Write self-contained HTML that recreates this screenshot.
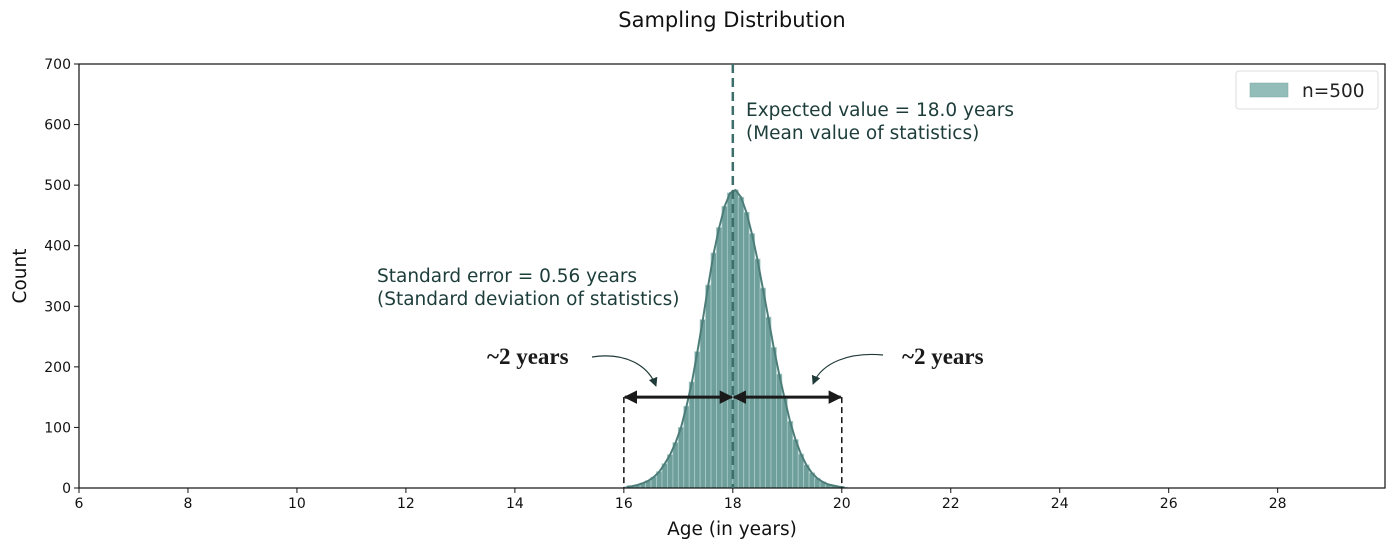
<!DOCTYPE html>
<html><head><meta charset="utf-8"><style>
body{margin:0;background:#fff;}
svg{display:block;font-family:"DejaVu Sans","Liberation Sans",sans-serif;}
</style></head><body>
<svg id="chart" width="1396" height="551" viewBox="0 0 1396 551">
<defs>
<marker id="ah" viewBox="0 0 10 10" refX="9" refY="5" markerWidth="4.5" markerHeight="4.5" orient="auto-start-reverse"><path d="M0,0 L10,5 L0,10 z" fill="#1a1a1a"/></marker>
<marker id="ah2" viewBox="0 0 10 10" refX="9" refY="5" markerWidth="9" markerHeight="9" markerUnits="userSpaceOnUse" orient="auto"><path d="M0,0 L10,5 L0,10 z" fill="#1f3a38"/></marker>
</defs>
<text x="732" y="27" text-anchor="middle" font-size="21" fill="#111">Sampling Distribution</text>
<g id="bars"></g>
<polyline id="kde" fill="none" stroke="#4d7d79" stroke-width="2"/>
<g id="axes"></g>
<line id="meanline" y1="64" y2="488" stroke="#3d6e6a" stroke-width="2.5" stroke-dasharray="9,5"/>
<text x="746" y="116" font-size="18.5" fill="#1d3d3b">Expected value = 18.0 years</text>
<text x="746" y="139" font-size="18.5" fill="#1d3d3b">(Mean value of statistics)</text>
<text x="377" y="282" font-size="18.5" fill="#1d3d3b">Standard error = 0.56 years</text>
<text x="377" y="305" font-size="18.5" fill="#1d3d3b">(Standard deviation of statistics)</text>
<text x="487" y="364" font-size="23" font-weight="bold" font-family="Liberation Serif,serif" fill="#1a1a1a">~2 years</text>
<text x="902" y="364" font-size="23" font-weight="bold" font-family="Liberation Serif,serif" fill="#1a1a1a">~2 years</text>
<path d="M592,357 C625,352 648,365 656,386" fill="none" stroke="#1f3a38" stroke-width="1.2" marker-end="url(#ah2)"/>
<path d="M883,355 C850,352 822,362 813,384" fill="none" stroke="#1f3a38" stroke-width="1.2" marker-end="url(#ah2)"/>
<g id="spans"></g>
<g>
<rect x="1236" y="71" width="142" height="38" rx="3" fill="#fff" stroke="#ddd"/>
<rect x="1250" y="83" width="38" height="14" fill="#93bdb9" stroke="#7ba6a2" stroke-width="0.5"/>
<text x="1302" y="97" font-size="18.5" fill="#222">n=500</text>
</g>
<text x="732" y="535" text-anchor="middle" font-size="18.5" fill="#111">Age (in years)</text>
<text transform="translate(26,276) rotate(-90)" text-anchor="middle" font-size="18.5" fill="#111">Count</text>
</svg>
<script>
const binStarts=[16.0,16.1,16.2,16.3,16.4,16.5,16.6,16.7,16.8,16.9,17.0,17.1,17.2,17.3,17.4,17.5,17.6,17.7,17.8,17.9,18.0,18.1,18.2,18.3,18.4,18.5,18.6,18.7,18.8,18.9,19.0,19.1,19.2,19.3,19.4,19.5,19.6,19.7,19.8,19.9,20.0];
const counts=[2,3,5,8,12,18,27,40,55,75,100,135,175,225,278,335,388,430,465,487,492,480,455,420,378,330,282,232,188,148,110,80,56,38,25,16,10,6,4,2,1];
const xTicks=[6,8,10,12,14,16,18,20,22,24,26,28];
const yTicks=[0,100,200,300,400,500,600,700];
const meanValue=18.0;
const spanLo=16, spanHi=20, spanY=150;
const binW=0.1;
const X0=79,X1=1385,xmin=6,xmax=29.97,Y0=488,Y1=64,ymax=700;
const sx=v=>X0+(v-xmin)/(xmax-xmin)*(X1-X0);
const sy=v=>Y0-v/ymax*(Y0-Y1);
const NS="http://www.w3.org/2000/svg";
function mk(t,a,p){const e=document.createElementNS(NS,t);for(const k in a)e.setAttribute(k,a[k]);p.appendChild(e);return e;}
const bars=document.getElementById('bars');
binStarts.forEach((b,i)=>{
 const r=mk('rect',{x:sx(b),y:sy(counts[i]),width:sx(b+binW)-sx(b),height:Y0-sy(counts[i]),fill:'#6f9f9b',stroke:'#a9cbc8','stroke-width':0.8},bars);
 
 
});
document.getElementById('kde').setAttribute('points',binStarts.map((b,i)=>sx(b+binW/2)+','+sy(counts[i])).join(' '));
const ml=document.getElementById('meanline');ml.setAttribute('x1',sx(meanValue));ml.setAttribute('x2',sx(meanValue));
const ax=document.getElementById('axes');
const fr=mk('rect',{x:X0,y:Y1,width:X1-X0,height:Y0-Y1,fill:'none',stroke:'#111','stroke-width':1.2},ax);


xTicks.forEach(t=>{const x=sx(t);mk('line',{x1:x,x2:x,y1:Y0,y2:Y0+5,stroke:'#111'},ax);
 const tx=mk('text',{x:x,y:Y0+20,'text-anchor':'middle','font-size':14,fill:'#111'},ax);tx.textContent=t;
 
 });
yTicks.forEach(t=>{const y=sy(t);mk('line',{x1:X0-5,x2:X0,y1:y,y2:y,stroke:'#111'},ax);
 const tx=mk('text',{x:X0-8,y:y+5,'text-anchor':'end','font-size':14,fill:'#111'},ax);tx.textContent=t;
 
 });
const sp=document.getElementById('spans');
[spanLo,spanHi].forEach(v=>{const l=mk('line',{x1:sx(v),x2:sx(v),y1:sy(spanY),y2:Y0,stroke:'#111','stroke-width':1.5,'stroke-dasharray':'6,4'},sp);
 
 });
[[spanLo,meanValue],[meanValue,spanHi]].forEach(p=>{const l=mk('line',{x1:sx(p[0])+1,x2:sx(p[1])-1,y1:sy(spanY),y2:sy(spanY),stroke:'#1a1a1a','stroke-width':3,'marker-start':'url(#ah)','marker-end':'url(#ah)'},sp);
 
 });
</script>
</body></html>
